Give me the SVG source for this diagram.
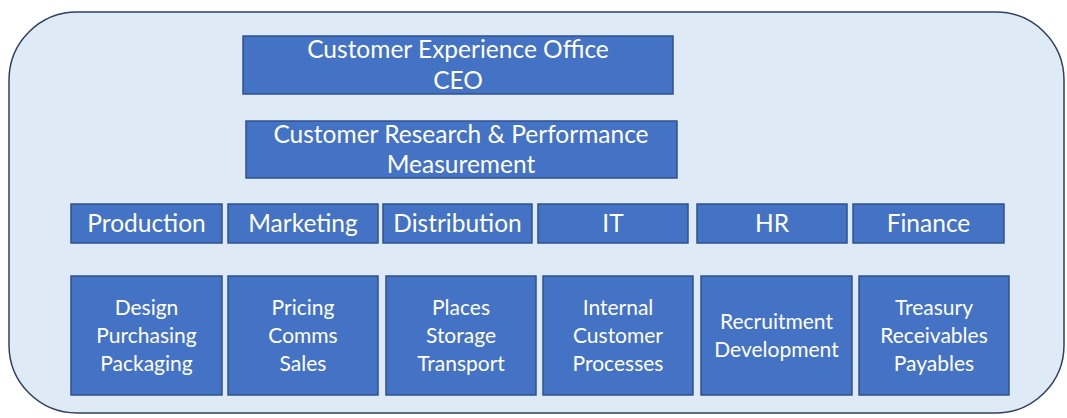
<svg xmlns="http://www.w3.org/2000/svg" width="1067" height="418" viewBox="0 0 1067 418">
  <style>
    .frame { fill: #DEEAF6; stroke: #2F3F5F; stroke-width: 1.5; }
    .box { fill: #4472C4; stroke: #2F528F; stroke-width: 1.5; }
    .t { fill: #FFFFFF; font-family: Lato, "Liberation Sans", sans-serif; text-anchor: middle; }
    .big { font-size: 24.5px; }
    .small { font-size: 21px; }
  </style>
  <rect width="1067" height="418" fill="#FFFFFF"/>
  <rect class="frame" x="9" y="12" width="1055" height="401" rx="68" ry="68"/>

  <g id="connectors"/>

  <g id="ceo">
    <rect class="box" x="243" y="36" width="430" height="58"/>
    <text class="t big" x="458" y="58">Customer Experience Office</text>
    <text class="t big" x="458" y="89">CEO</text>
  </g>
  <g id="research">
    <rect class="box" x="246" y="121" width="431" height="57"/>
    <text class="t big" x="461" y="143">Customer Research &amp; Performance</text>
    <text class="t big" x="461" y="173">Measurement</text>
  </g>

  <g id="production">
    <rect class="box" x="71" y="204" width="151" height="39"/>
    <text class="t big" x="146.5" y="232">Production</text>
  </g>
  <g id="marketing">
    <rect class="box" x="228" y="204" width="150" height="39"/>
    <text class="t big" x="303" y="232">Marketing</text>
  </g>
  <g id="distribution">
    <rect class="box" x="383" y="204" width="149" height="39"/>
    <text class="t big" x="457.5" y="232">Distribution</text>
  </g>
  <g id="it">
    <rect class="box" x="538" y="204" width="150" height="39"/>
    <text class="t big" x="613" y="232">IT</text>
  </g>
  <g id="hr">
    <rect class="box" x="697" y="204" width="150" height="39"/>
    <text class="t big" x="772" y="232">HR</text>
  </g>
  <g id="finance">
    <rect class="box" x="853" y="204" width="151" height="39"/>
    <text class="t big" x="928.5" y="232">Finance</text>
  </g>

  <g id="production-functions">
    <rect class="box" x="71" y="276" width="151" height="119"/>
    <text class="t small" x="146.5" y="315">Design</text>
    <text class="t small" x="146.5" y="343">Purchasing</text>
    <text class="t small" x="146.5" y="371">Packaging</text>
  </g>
  <g id="marketing-functions">
    <rect class="box" x="228" y="276" width="150" height="119"/>
    <text class="t small" x="303" y="315">Pricing</text>
    <text class="t small" x="303" y="343">Comms</text>
    <text class="t small" x="303" y="371">Sales</text>
  </g>
  <g id="distribution-functions">
    <rect class="box" x="386" y="276" width="150" height="119"/>
    <text class="t small" x="461" y="315">Places</text>
    <text class="t small" x="461" y="343">Storage</text>
    <text class="t small" x="461" y="371">Transport</text>
  </g>
  <g id="it-functions">
    <rect class="box" x="543" y="276" width="150" height="119"/>
    <text class="t small" x="618" y="315">Internal</text>
    <text class="t small" x="618" y="343">Customer</text>
    <text class="t small" x="618" y="371">Processes</text>
  </g>
  <g id="hr-functions">
    <rect class="box" x="701" y="276" width="151" height="119"/>
    <text class="t small" x="776.5" y="329">Recruitment</text>
    <text class="t small" x="776.5" y="357">Development</text>
  </g>
  <g id="finance-functions">
    <rect class="box" x="859" y="276" width="150" height="119"/>
    <text class="t small" x="934" y="315">Treasury</text>
    <text class="t small" x="934" y="343">Receivables</text>
    <text class="t small" x="934" y="371">Payables</text>
  </g>
</svg>
